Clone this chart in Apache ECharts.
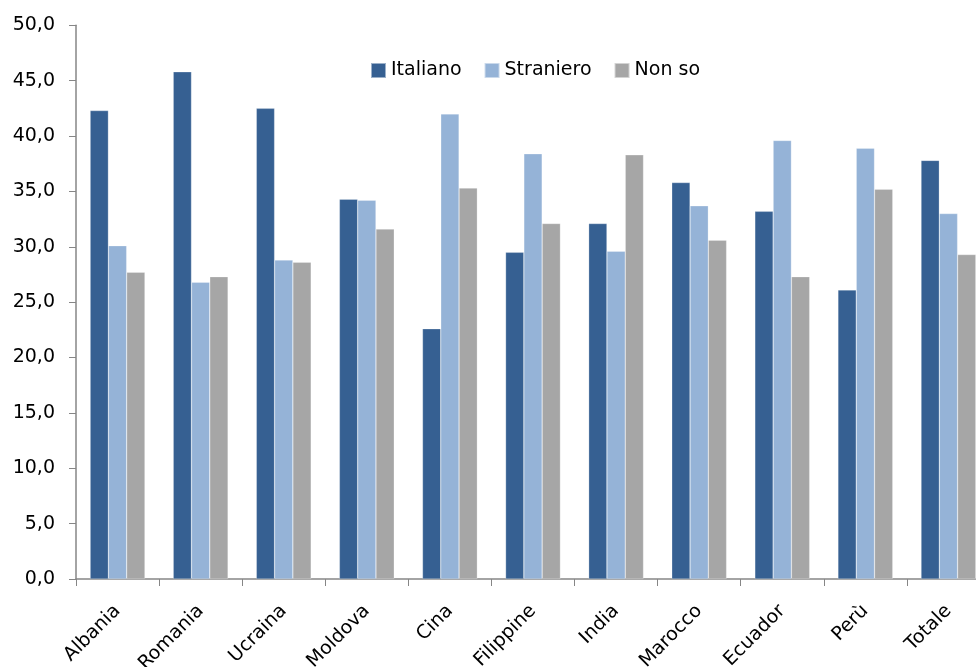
<!DOCTYPE html>
<html>
<head>
<meta charset="utf-8">
<script src="https://cdn.jsdelivr.net/npm/echarts@6/dist/echarts.min.js"></script>
<style>
html,body{margin:0;padding:0;background:#fff;overflow:hidden;}
#c{width:976px;height:667px;}
</style>
</head>
<body>
<div id="c"></div>
<script>
const categories = ['Albania','Romania','Ucraina','Moldova','Cina','Filippine','India','Marocco','Ecuador','Perù','Totale'];
const italiano  = [42.3, 45.8, 42.5, 34.3, 22.6, 29.5, 32.1, 35.8, 33.2, 26.1, 37.8];
const straniero = [30.1, 26.8, 28.8, 34.2, 42.0, 38.4, 29.6, 33.7, 39.6, 38.9, 33.0];
const nonSo     = [27.7, 27.3, 28.6, 31.6, 35.3, 32.1, 38.3, 30.6, 27.3, 35.2, 29.3];
const seriesNames = ['Italiano','Straniero','Non so'];
const colors = ['#366092','#95B3D7','#A6A6A6'];

const font = 'DejaVu Sans';
const chart = echarts.init(document.getElementById('c'));
const datasets = [italiano, straniero, nonSo];
chart.setOption({
  animation: false,
  textStyle: {fontFamily: font},
  legend: {
    data: seriesNames,
    left: 365, top: 56,
    icon: 'rect', itemWidth: 15, itemHeight: 15, itemGap: 22,
    textStyle: {fontFamily: font, fontSize: 19, color: '#000'}
  },
  grid: {left: 76, width: 914, top: 25.3, bottom: 88, containLabel: false, outerBoundsMode: 'none'},
  xAxis: {
    type: 'category',
    data: categories,
    axisLine: {lineStyle: {color: '#868686', width: 1.5}},
    axisTick: {show: true, length: 7, lineStyle: {color: '#868686'}},
    axisLabel: {rotate: 45, fontFamily: font, fontSize: 19, color: '#000', margin: 29, interval: 0}
  },
  yAxis: {
    type: 'value', min: 0, max: 50, interval: 5,
    splitLine: {show: false},
    axisLine: {show: true, lineStyle: {color: '#868686', width: 1.5}},
    axisTick: {show: true, length: 7, lineStyle: {color: '#868686'}},
    axisLabel: {fontFamily: font, fontSize: 19, color: '#000', margin: 21,
      formatter: v => v.toFixed(1).replace('.', ',')}
  },
  series: datasets.map((d, i) => ({
    name: seriesNames[i],
    type: 'bar',
    data: d,
    barGap: '0%',
    barCategoryGap: '34%',
    itemStyle: {color: colors[i], borderColor: 'rgba(255,255,255,0.5)', borderWidth: 0.5}
  }))
});
</script>
</body>
</html>
